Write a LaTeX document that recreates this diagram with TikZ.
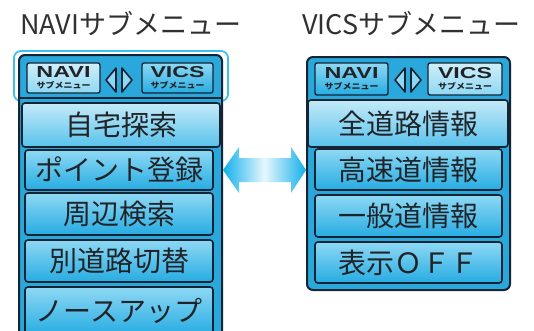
\documentclass[tikz,border=0pt]{standalone}
\usepackage{fontspec}
\usepackage{graphicx}
\newfontfamily\jp{Noto Sans CJK JP}
\newfontfamily\hdr{Liberation Sans}
\usetikzlibrary{shapes.geometric}
\definecolor{dk}{HTML}{142432}
\definecolor{frm}{HTML}{2AA8DC}
\definecolor{btop}{HTML}{8ED8F4}
\definecolor{bbot}{HTML}{26ACE2}
\definecolor{stop}{HTML}{C4EAF8}
\definecolor{sbot}{HTML}{58C2EC}
\definecolor{hl}{HTML}{3EC0EE}
\definecolor{arr}{HTML}{12B0EA}
\definecolor{txt}{HTML}{202428}
\definecolor{ttl}{HTML}{303030}
\tikzset{
  panel/.style={draw=dk, line width=2pt, fill=frm, rounded corners=6pt},
  btn/.style={draw=dk, line width=1.6pt, rounded corners=3pt, top color=btop, bottom color=bbot, inner sep=0pt, font=\jp\fontsize{28}{28}\selectfont, text=txt},
  selbtn/.style={btn, top color=stop, bottom color=sbot},
  hbtn/.style={draw=dk, line width=1.4pt, rounded corners=2pt, inner sep=0pt, minimum height=30pt, text=txt, align=center},
  hlight/.style={hbtn, top color=stop!80!white, bottom color=btop},
  hdark/.style={hbtn, top color=btop, bottom color=bbot},
  tri/.style={draw=dk, line width=1.6pt, fill=btop, line join=round},
  title/.style={font=\jp\fontsize{27}{27}\selectfont, text=ttl, inner sep=0pt},
}
\newcommand{\hlab}[1]{\resizebox{54pt}{11pt}{\hdr\bfseries #1}\\[-1pt]\resizebox{54pt}{7pt}{\jp\bfseries サブメニュー}}
\begin{document}
\begin{tikzpicture}[x=1pt,y=-1pt]
\useasboundingbox (0,0) rectangle (534,330);
\clip (0,0) rectangle (534,330);
\fill[white] (0,0) rectangle (534,330);
% titles
\node[title, anchor=base west] (t1) at (20,34) {NAVIサブメニュー};
\node[title, anchor=base west] (t2) at (302,34) {VICSサブメニュー};
% left panel
\draw[hl, line width=1.8pt, rounded corners=7pt] (14,51) rectangle (228,101);
\draw[panel] (19,55) rectangle (222,345);
\draw[dk, line width=1.6pt] (20,98) -- (221,98);
\node[hlight, minimum width=73pt] (ln) at (63.5,78) {\hlab{NAVI}};
\node[hdark, minimum width=71pt] (lv) at (177.5,78) {\hlab{VICS}};
\draw[tri] (116,68) -- (106,80) -- (116,92) -- cycle;
\draw[tri] (122,68) -- (132,80) -- (122,92) -- cycle;
\node[selbtn, minimum width=198pt, minimum height=44pt] (a1) at (121,125) {自宅探索};
\node[btn, minimum width=188pt, minimum height=40pt] (a2) at (119,170) {ポイント登録};
\node[btn, minimum width=188pt, minimum height=42pt] (a3) at (119,214) {周辺検索};
\node[btn, minimum width=188pt, minimum height=42pt] (a4) at (119,261) {別道路切替};
\node[btn, minimum width=188pt, minimum height=48pt] (a5) at (119,311) {ノースアップ};
% right panel
\draw[panel] (307,57) rectangle (510,290);
\node[hdark, minimum width=73pt, minimum height=32pt] (rn) at (351.5,79) {\hlab{NAVI}};
\node[hlight, minimum width=74pt, minimum height=32pt] (rv) at (465,79) {\hlab{VICS}};
\draw[tri] (405,68) -- (395,80) -- (405,92) -- cycle;
\draw[tri] (411,68) -- (421,80) -- (411,92) -- cycle;
\node[selbtn, minimum width=200pt, minimum height=47pt] (b1) at (408,123.5) {全道路情報};
\node[btn, minimum width=187pt, minimum height=41pt] (b2) at (408.5,169.5) {高速道情報};
\node[btn, minimum width=187pt, minimum height=42pt] (b3) at (408.5,216) {一般道情報};
\node[btn, minimum width=187pt, minimum height=41pt] (b4) at (408.5,262.5) {表示ＯＦＦ};
% double arrow
\coordinate (pl) at (223,170);
\coordinate (pr) at (306,170);
\shade[left color=arr, right color=arr, middle color=white!90!arr]
  (pl) -- (239,147) -- (239,158) -- (291,158) -- (291,147) -- (pr)
  -- (291,193) -- (291,182) -- (239,182) -- (239,193) -- cycle;
\end{tikzpicture}
\end{document}
